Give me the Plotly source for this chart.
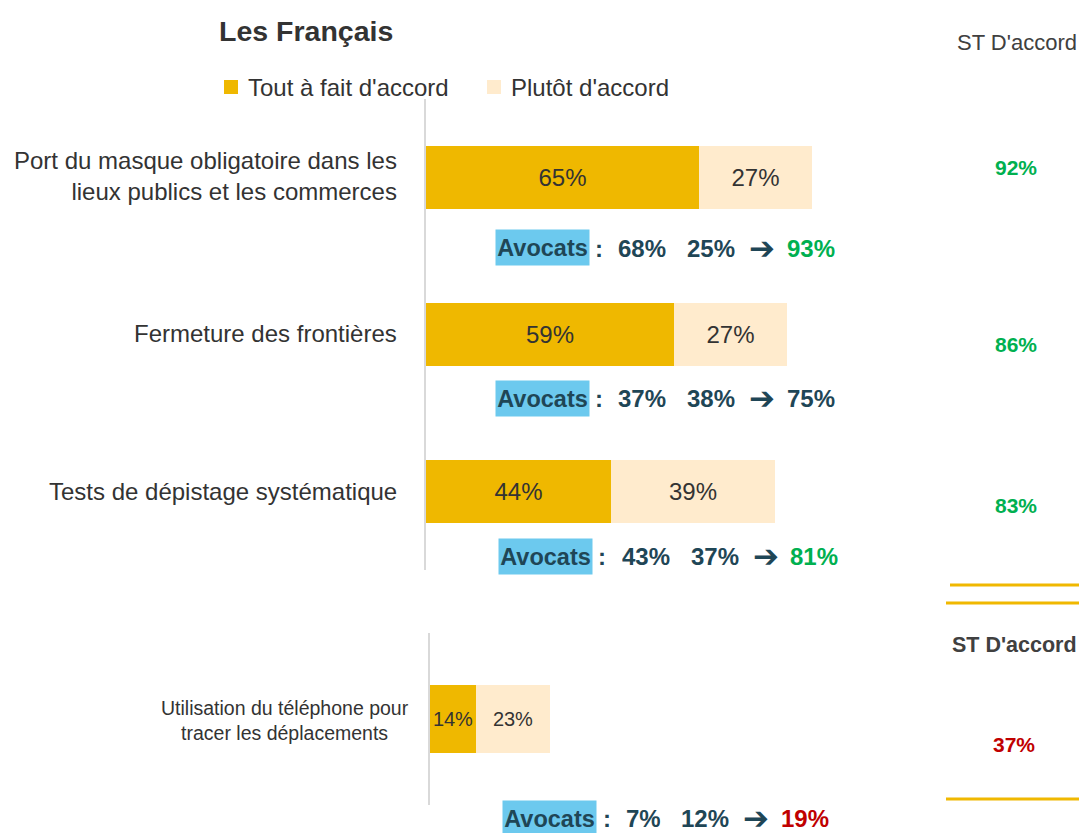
import plotly.graph_objects as go

# ---------------- data ----------------
categories = ["Port du masque obligatoire dans les<br>lieux publics et les commerces",
              "Fermeture des frontières",
              "Tests de dépistage systématique"]
tout_fait = [65, 59, 44]
plutot = [27, 27, 39]
st_accord = [92, 86, 83]
avocats_tout = [68, 37, 43]
avocats_plutot = [25, 38, 37]
avocats_st = [93, 75, 81]
avocats_st_good = [True, False, True]

phone_category = ["Utilisation du téléphone pour<br>tracer les déplacements"]
phone_tout = [14]
phone_plutot = [23]
phone_st = [37]
phone_avocats_tout = [7]
phone_avocats_plutot = [12]
phone_avocats_st = [19]

series_names = ["Tout à fait d'accord", "Plutôt d'accord"]

# ---------------- style ----------------
W, H = 1079, 833
C_TOUT = "#EFB800"
C_PLUT = "#FFEBCD"
C_TEXT = "#333333"
C_DARK = "#1F4656"
C_GREEN = "#00B050"
C_RED = "#C00000"
C_BLUE = "#6CC9EE"
C_AXIS = "#D9D9D9"
FONT = "Liberation Sans, Arial, sans-serif"


def px(x):
    return x / W


def py(y):
    return 1 - y / H


fig = go.Figure()

bar_common = dict(orientation="h", width=0.4, textposition="inside", insidetextanchor="middle",
                  textangle=0, constraintext="none", showlegend=False, hoverinfo="skip")

fig.add_trace(go.Bar(y=categories, x=tout_fait, name=series_names[0],
                     marker=dict(color=C_TOUT, line=dict(width=0)),
                     text=[f"{v}%" for v in tout_fait],
                     textfont=dict(size=24, color=C_TEXT, family=FONT),
                     xaxis="x", yaxis="y", **bar_common))
fig.add_trace(go.Bar(y=categories, x=plutot, name=series_names[1],
                     marker=dict(color=C_PLUT, line=dict(width=0)),
                     text=[f"{v}%" for v in plutot],
                     textfont=dict(size=24, color=C_TEXT, family=FONT),
                     xaxis="x", yaxis="y", **bar_common))
fig.add_trace(go.Bar(y=phone_category, x=phone_tout, name=series_names[0],
                     marker=dict(color=C_TOUT, line=dict(width=0)),
                     text=[f"{v}%" for v in phone_tout],
                     textfont=dict(size=20, color=C_TEXT, family=FONT),
                     xaxis="x2", yaxis="y2", **bar_common))
fig.add_trace(go.Bar(y=phone_category, x=phone_plutot, name=series_names[1],
                     marker=dict(color=C_PLUT, line=dict(width=0)),
                     text=[f"{v}%" for v in phone_plutot],
                     textfont=dict(size=20, color=C_TEXT, family=FONT),
                     xaxis="x2", yaxis="y2", **bar_common))

annotations = []
shapes = []


def ann(text, x, y, size, color, xanchor="center", family=FONT, **kw):
    d = dict(text=text, x=px(x), y=py(y), xref="paper", yref="paper", xanchor=xanchor,
             yanchor="middle", showarrow=False, font=dict(size=size, color=color, family=family))
    d.update(kw)
    annotations.append(d)


# title
ann("<b>Les Français</b>", 217, 31, 28.5, "#333333", xanchor="left")

# legend
for (x0, label, col) in [(224, series_names[0], C_TOUT), (487, series_names[1], C_PLUT)]:
    shapes.append(dict(type="rect", xref="paper", yref="paper", x0=px(x0), x1=px(x0 + 14),
                       y0=py(94), y1=py(80), fillcolor=col, line=dict(width=0)))
    ann(label, x0 + 22, 88, 24, C_TEXT, xanchor="left")

# category labels
label_y = [176, 333, 491]
for cat, yy in zip(categories, label_y):
    ann(cat, 399, yy, 24, C_TEXT, xanchor="right", align="right")
ann(phone_category[0], 285, 720, 19.5, C_TEXT, align="center")

# Avocats lines: positions [box_left, colon_x, n1_left, n2_left, arrow_left, total_left]
avocat_pos = [(496, 599, 616, 685, 748, 785),
              (496, 599, 616, 685, 748, 785),
              (499, 602, 620, 689, 752, 788),
              (503, 607, 624, 679, 742, 779)]
avocat_y = [248, 398, 556, 818]


def avocats_line(pos, yy, a, b, total, total_color):
    box, colon, n1, n2, arr, tot = pos
    ann("<b>Avocats</b>", box + 46.5, yy, 23.5, C_DARK, bgcolor=C_BLUE, borderpad=0,
        width=93, height=35, align="center")
    ann("<b>:</b>", colon, yy, 24, C_DARK, height=28)
    ann(f"<b>{a}%</b>", n1, yy, 24, C_DARK, xanchor="left", height=28)
    ann(f"<b>{b}%</b>", n2, yy, 24, C_DARK, xanchor="left", height=28)
    ann("<b>➔</b>", arr - 1, yy, 31, C_DARK, xanchor="left", family="DejaVu Sans", height=28)
    ann(f"<b>{total}%</b>", tot, yy, 24, total_color, xanchor="left", height=28)


for i in range(3):
    avocats_line(avocat_pos[i], avocat_y[i], avocats_tout[i], avocats_plutot[i], avocats_st[i],
                 C_GREEN if avocats_st_good[i] else C_DARK)
avocats_line(avocat_pos[3], avocat_y[3], phone_avocats_tout[0], phone_avocats_plutot[0],
             phone_avocats_st[0], C_RED)

# right column
ann("ST D'accord", 1017, 43, 22, "#404040")
st_y = [167, 344, 505]
for v, yy in zip(st_accord, st_y):
    ann(f"<b>{v}%</b>", 1016, yy, 21, C_GREEN)
ann("<b>ST D'accord</b>", 1014, 645, 21.5, "#404040")
ann(f"<b>{phone_st[0]}%</b>", 1014, 744, 21, C_RED)

for (x0, yy) in [(950, 585), (946, 603), (946, 799)]:
    shapes.append(dict(type="line", xref="paper", yref="paper", x0=px(x0), x1=1.0,
                       y0=py(yy), y1=py(yy), line=dict(color="#F0B800", width=3)))

fig.update_layout(
    width=W, height=H,
    margin=dict(l=0, r=0, t=0, b=0),
    paper_bgcolor="white", plot_bgcolor="white",
    barmode="stack", bargap=0,
    font=dict(family=FONT, color=C_TEXT),
    xaxis=dict(domain=[px(426), px(846)], range=[0, 100], visible=False, fixedrange=True),
    yaxis=dict(domain=[py(570), py(99)], range=[2.5, -0.5], showticklabels=False, showgrid=False,
               zeroline=False, showline=True, linecolor=C_AXIS, linewidth=2, ticks="",
               anchor="x", fixedrange=True),
    xaxis2=dict(domain=[px(430), px(755)], range=[0, 100], visible=False, anchor="y2", fixedrange=True),
    yaxis2=dict(domain=[py(805), py(633)], range=[0.5, -0.5], showticklabels=False, showgrid=False,
                zeroline=False, showline=True, linecolor=C_AXIS, linewidth=2, ticks="",
                anchor="x2", fixedrange=True),
    annotations=annotations,
    shapes=shapes,
)

fig.write_html("out.html",
               config={"displayModeBar": False},
               post_script="document.body.style.margin='0px';document.body.style.overflow='hidden';")
